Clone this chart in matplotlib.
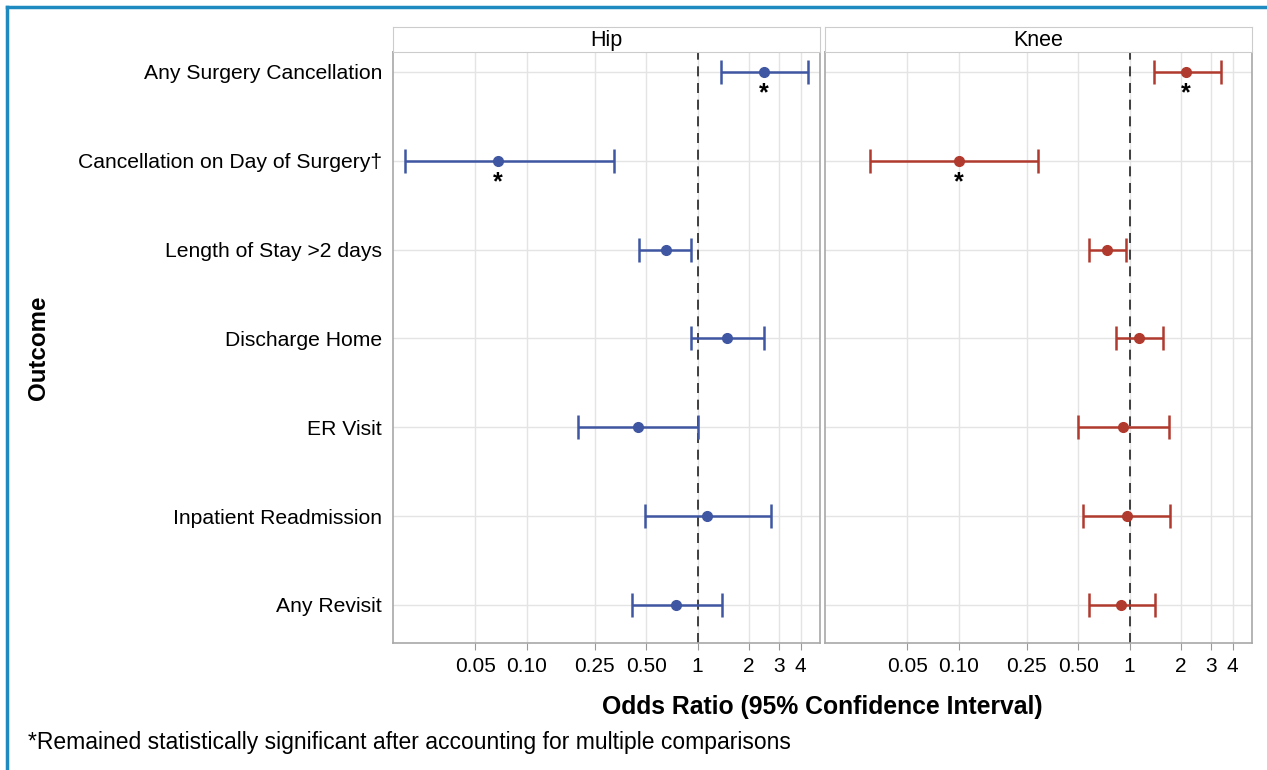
# Forest plot of odds ratios for hip and knee outcomes
import matplotlib
matplotlib.use('Agg')
import matplotlib.pyplot as plt
import numpy as np

plt.rcParams['font.family'] = ['Liberation Sans', 'DejaVu Sans']

# Data
outcomes = ['Any Surgery Cancellation', 'Cancellation on Day of Surgery\u2020',
            'Length of Stay >2 days', 'Discharge Home', 'ER Visit',
            'Inpatient Readmission', 'Any Revisit']
hip_or = [2.44, 0.068, 0.65, 1.48, 0.45, 1.14, 0.75]
hip_low = [1.37, 0.0194, 0.456, 0.92, 0.20, 0.494, 0.415]
hip_high = [4.43, 0.325, 0.92, 2.44, 1.0, 2.69, 1.38]
knee_or = [2.14, 0.10, 0.735, 1.13, 0.91, 0.96, 0.89]
knee_low = [1.38, 0.0304, 0.578, 0.83, 0.50, 0.53, 0.578]
knee_high = [3.43, 0.292, 0.95, 1.56, 1.69, 1.73, 1.40]
significant = [True, True, False, False, False, False, False]
tick_vals = [0.05, 0.10, 0.25, 0.50, 1, 2, 3, 4]
tick_labels = ['0.05', '0.10', '0.25', '0.50', '1', '2', '3', '4']

W, H = 1267, 770
fig = plt.figure(figsize=(W / 100, H / 100), dpi=100)

# blue frame on top and left
fig.add_artist(plt.Line2D([7 / W, 1], [1 - 7 / H, 1 - 7 / H], color='#1f8ac0', lw=2.5))
fig.add_artist(plt.Line2D([7 / W, 7 / W], [0, 1 - 7 / H], color='#1f8ac0', lw=2.5))

panels = [('Hip', 393, 820, hip_or, hip_low, hip_high, '#3f56a2'),
          ('Knee', 825, 1252, knee_or, knee_low, knee_high, '#b03a2e')]
ypos = np.arange(len(outcomes))

for i, (name, x0, x1, est, lo, hi, col) in enumerate(panels):
    ax = fig.add_axes([x0 / W, 1 - 643 / H, (x1 - x0) / W, (643 - 52) / H])
    ax.set_xscale('log')
    ax.set_xlim(0.0165, 5.2)
    ax.set_ylim(6.43, -0.225)
    ax.axvline(1, color='#222222', lw=1.2, ls=(0, (6, 4)), zorder=2)
    est = np.array(est)
    err = [est - np.array(lo), np.array(hi) - est]
    ax.errorbar(est, ypos, xerr=err, fmt='o', color=col, ms=7, lw=1.8,
                capsize=8.5, capthick=1.8, zorder=3)
    for j, s in enumerate(significant):
        if s:
            ax.text(est[j], ypos[j] + 0.24, '*', ha='center', va='center',
                    fontsize=18, fontweight='bold')
    ax.set_xticks(tick_vals)
    ax.set_xticklabels(tick_labels, fontsize=15)
    ax.xaxis.set_minor_locator(matplotlib.ticker.NullLocator())
    ax.set_yticks(ypos)
    if i == 0:
        ax.set_yticklabels(outcomes, fontsize=15.2)
    else:
        ax.set_yticklabels([])
    ax.tick_params(axis='y', length=0, pad=8)
    ax.tick_params(axis='x', length=5, color='#999999', pad=5)
    ax.grid(True, color='#e4e4e4', lw=1)
    ax.set_axisbelow(True)
    for sp in ax.spines.values():
        sp.set_color('#a8a8a8')
        sp.set_linewidth(1.2)
    # facet strip
    sax = fig.add_axes([x0 / W, 1 - 52 / H, (x1 - x0) / W, 25 / H])
    sax.set_xticks([])
    sax.set_yticks([])
    for sp in sax.spines.values():
        sp.set_color('#cccccc')
    sax.text(0.5, 0.45, name, ha='center', va='center', fontsize=15.5,
             transform=sax.transAxes)

fig.text(822 / W, 1 - 707 / H, 'Odds Ratio (95% Confidence Interval)', ha='center',
         va='center', fontsize=17.8, fontweight='bold')
fig.text(38 / W, 1 - 348 / H, 'Outcome', ha='center', va='center', rotation=90,
         fontsize=17.4, fontweight='bold')
fig.text(28 / W, 1 - 742 / H, '*Remained statistically significant after accounting for multiple comparisons',
         ha='left', va='center', fontsize=16.5)

fig.savefig('out.png', dpi=100)
